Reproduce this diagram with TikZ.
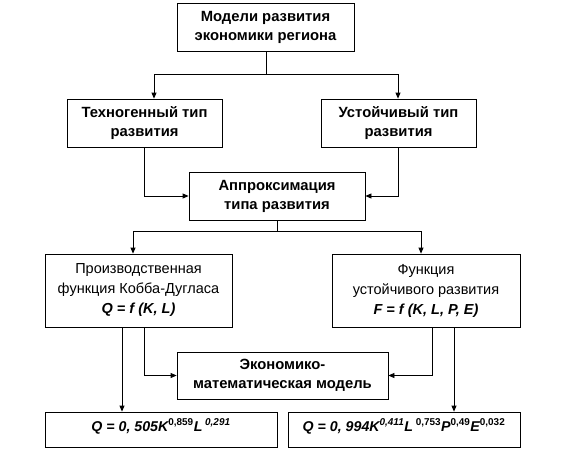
\documentclass[tikz,border=0pt]{standalone}
\usepackage{fontspec}
\setmainfont{Liberation Sans}
\usetikzlibrary{arrows.meta, positioning, calc}

\begin{document}
\begin{tikzpicture}[
    x=1pt, y=-1pt,
    every node/.style={font=\fontsize{14.5}{20}\selectfont},
    box/.style={rectangle, draw=black, line width=0.8pt, align=center, inner sep=2pt},
    boldbox/.style={box, font=\fontsize{14.8}{19}\selectfont\bfseries},
    formula/.style={font=\fontsize{14.2}{19}\selectfont\bfseries\itshape},
    arrow/.style={-{Triangle[width=5pt,length=6pt]}, line width=0.8pt},
    line/.style={line width=0.8pt}
]
\useasboundingbox (0,0) rectangle (567,450);
% Uroven 1
\node[boldbox, minimum width=177pt, minimum height=48pt] (models) at (265.5,27) {Модели развития\\экономики региона};
% Uroven 2
\node[boldbox, minimum width=155pt, minimum height=48pt] (techno) at (144.5,123) {Техногенный тип\\развития};
\node[boldbox, minimum width=155pt, minimum height=48pt] (sustain) at (398.5,123) {Устойчивый тип\\развития};
\node[boldbox, minimum width=176pt, minimum height=48pt] (approx) at (277,196) {Аппроксимация\\типа развития};
% Uroven 3
\node[box, minimum width=187pt, minimum height=73pt] (cobb) at (138.5,290.5)
    {Производственная\\функция Кобба-Дугласа\\{\bfseries\itshape Q = f (K, L)}};
\node[box, minimum width=188pt, minimum height=73pt] (sfunc) at (426,290.5)
    {Функция\\устойчивого развития\\{\bfseries\itshape F = f (K, L, P, E)}};
\node[boldbox, minimum width=211pt, minimum height=47pt] (econ) at (282.5,375.5) {Экономико-\\математическая модель};
% Rezultaty
\node[box, minimum width=232pt, minimum height=35pt] (res1) at (161,429.5) {};
\node[box, minimum width=232pt, minimum height=35pt] (res2) at (404,429.5) {};
\node[formula] (res1txt) at ($(res1.center)+(0,-3)$)
    {Q = 0, 505K\textsuperscript{\upshape 0,859}L\textsuperscript{ 0,291}};
\node[formula] (res2txt) at ($(res2.center)+(0,-3)$)
    {Q = 0, 994K\textsuperscript{0,411}L\textsuperscript{\upshape\ 0,753}P\textsuperscript{\upshape 0,49}E\textsuperscript{\upshape 0,032}};
% Strelki
\coordinate (split1) at (266,74);
\coordinate (split2) at (277,231);
\draw[line] (models.south -| split1) -- (split1);
\draw[arrow] (split1) -| ([xshift=9.5pt]techno.north);
\draw[arrow] (split1) -| ([xshift=-0.5pt]sustain.north);
\draw[arrow] (techno.south) |- (approx.west);
\draw[arrow] ([xshift=-0.5pt]sustain.south) |- (approx.east);
\draw[line] (approx.south) -- (split2);
\draw[arrow] (split2) -| ([xshift=-5.5pt]cobb.north);
\draw[arrow] (split2) -| ([xshift=-5pt]sfunc.north);
\draw[arrow] ([xshift=5.5pt]cobb.south) |- (econ.west);
\draw[arrow] ([xshift=6pt]sfunc.south) |- (econ.east);
\draw[arrow] ([xshift=-16.5pt]cobb.south) -- ([xshift=-39pt]res1.north);
\draw[arrow] ([xshift=28pt]sfunc.south) -- ([xshift=50pt]res2.north);
\end{tikzpicture}
\end{document}
